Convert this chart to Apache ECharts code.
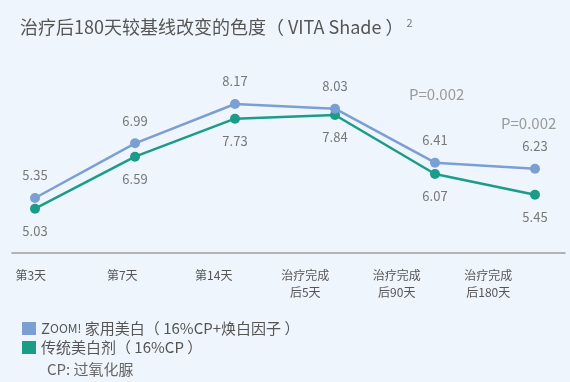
<!DOCTYPE html>
<html>
<head>
<meta charset="utf-8">
<script src="https://cdn.jsdelivr.net/npm/echarts@6/dist/echarts.min.js"></script>
<style>
html,body{margin:0;padding:0;background:#EFF5FC;}
#c{width:570px;height:382px;}
</style>
</head>
<body>
<div id="c"></div>
<script>
const categories = ['第3天', '第7天', '第14天', '治疗完成\n后5天', '治疗完成\n后90天', '治疗完成\n后180天'];
const zoomValues = [5.35, 6.99, 8.17, 8.03, 6.41, 6.23];
const traditionalValues = [5.03, 6.59, 7.73, 7.84, 6.07, 5.45];
const seriesNames = ['ZOOM! 家用美白（ 16%CP+焕白因子 ）', '传统美白剂（ 16%CP ）'];
const pLabels = ['P=0.002', 'P=0.002'];
const yMin = 3.7;
const yMax = 10;

const font = '"Noto Sans CJK SC", "Noto Sans", sans-serif';
const blue = '#7B9FD3';
const green = '#1B9C88';

const chart = echarts.init(document.getElementById('c'));
chart.setOption({
  animation: false,
  title: [{
    text: '{m|治疗后180天较基线改变的色度（ VITA Shade ）}{s|2}',
    left: 15, top: 12,
    textStyle: {
      fontWeight: 'normal',
      rich: {
        m: {fontSize: 18, color: '#555', fontWeight: 'normal', fontFamily: font},
        s: {fontSize: 11, color: '#777', fontWeight: 'normal', fontFamily: font, verticalAlign: 'top', padding: [0, 0, 10, 3]}
      }
    }
  }, {
    text: 'CP: 过氧化脲',
    left: 42, top: 357,
    textStyle: {fontSize: 15, color: '#666', fontWeight: 'normal', fontFamily: font}
  }, {
    text: pLabels[0],
    left: 404, top: 82,
    textStyle: {fontSize: 15, color: '#9a9a9a', fontWeight: 'normal', fontFamily: font}
  }, {
    text: pLabels[1],
    left: 496, top: 111,
    textStyle: {fontSize: 15, color: '#9a9a9a', fontWeight: 'normal', fontFamily: font}
  }],
  legend: {
    orient: 'vertical',
    left: 17, top: 316,
    itemWidth: 14, itemHeight: 13,
    itemGap: 4,
    icon: 'rect',
    data: seriesNames,
    formatter: function (name) {
      if (name.indexOf('ZOOM!') === 0) {
        return '{z|Z}{o|OOM!}{t|' + name.slice(5) + '}';
      }
      return '{t|' + name + '}';
    },
    textStyle: {
      fontFamily: font,
      color: '#555',
      fontSize: 15,
      rich: {
        z: {fontSize: 15, color: '#555', fontFamily: font},
        o: {fontSize: 12, color: '#555', fontFamily: font},
        t: {fontSize: 15, color: '#555', fontFamily: font}
      }
    }
  },
  grid: [
    {left: -15, right: 36, top: 43, height: 210, outerBoundsMode: 'none'},
    {left: 12, right: 5, top: 43, height: 210, outerBoundsMode: 'none'}
  ],
  xAxis: [{
    type: 'category', gridIndex: 0, data: categories, boundaryGap: true,
    axisLine: {show: false},
    axisTick: {show: false},
    axisLabel: {
      color: '#555', fontSize: 12, fontFamily: font, margin: 14, lineHeight: 17,
      interval: 0
    }
  }, {
    type: 'value', gridIndex: 1, min: -0.23, max: 5.3,
    axisLine: {show: true, onZero: false, lineStyle: {color: '#9d9d9d', width: 1.5}},
    axisTick: {show: false}, axisLabel: {show: false}, splitLine: {show: false}
  }],
  yAxis: [{
    type: 'value', gridIndex: 0, min: 0, max: 1, show: false
  }, {
    type: 'value', gridIndex: 1, min: yMin, max: yMax,
    axisLine: {show: false}, axisTick: {show: false}, axisLabel: {show: false}, splitLine: {show: false}
  }],
  series: [{
    name: seriesNames[0],
    type: 'line',
    xAxisIndex: 1, yAxisIndex: 1,
    data: zoomValues.map((v, i) => [i, v]),
    color: blue,
    symbol: 'circle', symbolSize: 10,
    lineStyle: {width: 2.5, color: blue},
    itemStyle: {color: blue},
    label: {show: true, position: 'top', distance: 11, color: '#777', fontSize: 13, fontFamily: font, formatter: p => p.value[1].toFixed(2)},
    z: 3
  }, {
    name: seriesNames[1],
    type: 'line',
    xAxisIndex: 1, yAxisIndex: 1,
    data: traditionalValues.map((v, i) => [i, v]),
    color: green,
    symbol: 'circle', symbolSize: 10,
    lineStyle: {width: 2.5, color: green},
    itemStyle: {color: green},
    label: {show: true, position: 'bottom', distance: 11, color: '#777', fontSize: 13, fontFamily: font, formatter: p => p.value[1].toFixed(2)},
    z: 2
  }]
});
</script>
</body>
</html>
